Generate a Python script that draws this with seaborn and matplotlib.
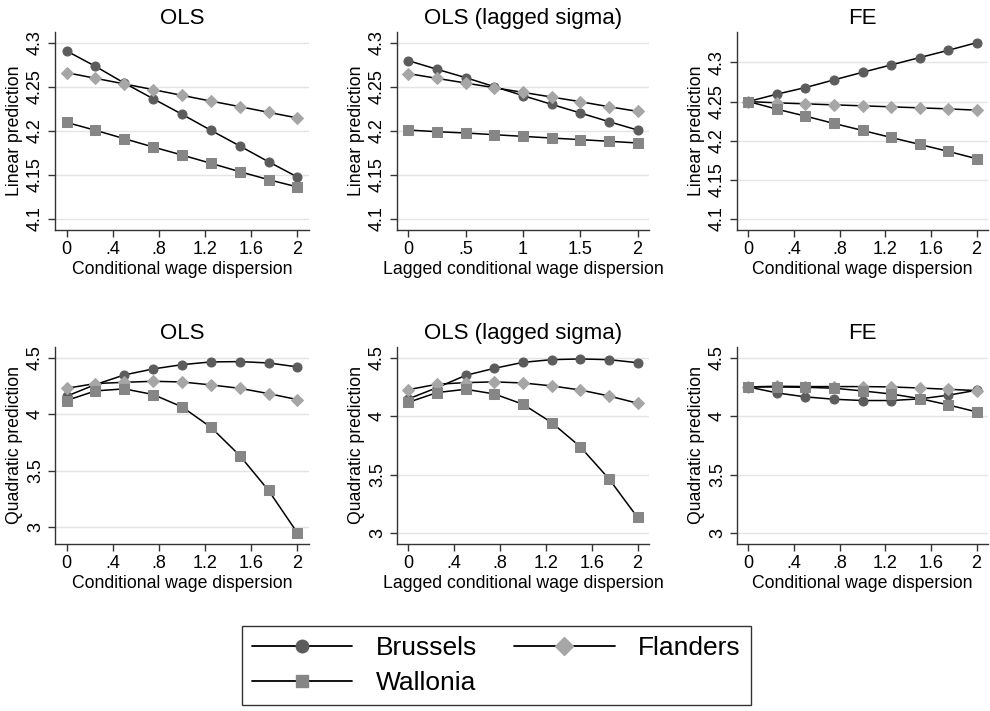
import matplotlib
matplotlib.use("Agg")
import matplotlib.pyplot as plt
import seaborn as sns
import numpy as np
import pandas as pd
from matplotlib.lines import Line2D

sns.set_theme(style="white")
plt.rcParams['font.family'] = ['Liberation Sans', 'DejaVu Sans']
plt.rcParams['text.color'] = 'black'
plt.rcParams['axes.labelcolor'] = 'black'
plt.rcParams['xtick.color'] = 'black'
plt.rcParams['ytick.color'] = 'black'

x = [0, 0.25, 0.5, 0.75, 1.0, 1.25, 1.5, 1.75, 2.0]
regions = ["Brussels", "Flanders", "Wallonia"]

# Linear prediction panels
ols_lin = {
    "Brussels": [4.291, 4.2735, 4.2545, 4.2367, 4.219, 4.2008, 4.183, 4.165, 4.1477],
    "Flanders": [4.2663, 4.2599, 4.2535, 4.2470, 4.2405, 4.2340, 4.2277, 4.2212, 4.2148],
    "Wallonia": [4.2098, 4.2008, 4.1913, 4.1818, 4.1727, 4.1633, 4.1538, 4.1447, 4.1364],
}
olslag_lin = {
    "Brussels": [4.2799, 4.2701, 4.2606, 4.2504, 4.2402, 4.2303, 4.2205, 4.2106, 4.2011],
    "Flanders": [4.2652, 4.2598, 4.2545, 4.2492, 4.2439, 4.2386, 4.2333, 4.2276, 4.2223],
    "Wallonia": [4.2011, 4.1992, 4.1977, 4.1958, 4.1939, 4.1920, 4.1902, 4.1883, 4.1864],
}
fe_lin = {
    "Brussels": [4.25, 4.2594, 4.2679, 4.2777, 4.2874, 4.2968, 4.3062, 4.3155, 4.3253],
    "Flanders": [4.25, 4.2483, 4.2470, 4.2457, 4.2445, 4.2432, 4.2419, 4.2406, 4.2389],
    "Wallonia": [4.25, 4.2402, 4.2313, 4.2219, 4.2130, 4.2040, 4.1951, 4.1862, 4.1768],
}
# Quadratic prediction panels
ols_quad = {
    "Brussels": [4.159, 4.262, 4.347, 4.400, 4.438, 4.462, 4.465, 4.453, 4.418],
    "Flanders": [4.229, 4.271, 4.282, 4.291, 4.285, 4.259, 4.229, 4.182, 4.129],
    "Wallonia": [4.121, 4.206, 4.224, 4.174, 4.065, 3.885, 3.635, 3.326, 2.950],
}
olslag_quad = {
    "Brussels": [4.148, 4.244, 4.349, 4.409, 4.460, 4.483, 4.489, 4.483, 4.457],
    "Flanders": [4.227, 4.273, 4.287, 4.293, 4.284, 4.259, 4.224, 4.173, 4.111],
    "Wallonia": [4.119, 4.202, 4.230, 4.190, 4.102, 3.946, 3.739, 3.466, 3.136],
}
fe_quad = {
    "Brussels": [4.250, 4.199, 4.165, 4.145, 4.134, 4.134, 4.148, 4.179, 4.222],
    "Flanders": [4.250, 4.256, 4.253, 4.253, 4.253, 4.250, 4.241, 4.230, 4.219],
    "Wallonia": [4.250, 4.250, 4.247, 4.239, 4.216, 4.190, 4.151, 4.097, 4.037],
}

titles = ["OLS", "OLS (lagged sigma)", "FE", "OLS", "OLS (lagged sigma)", "FE"]
xlabels = ["Conditional wage dispersion", "Lagged conditional wage dispersion",
           "Conditional wage dispersion"] * 2
ylabels = ["Linear prediction"] * 3 + ["Quadratic prediction"] * 3
datasets = [ols_lin, olslag_lin, fe_lin, ols_quad, olslag_quad, fe_quad]

xticks_a = [0, 0.4, 0.8, 1.2, 1.6, 2.0]
xticklabels_a = ["0", ".4", ".8", "1.2", "1.6", "2"]
xticks_b = [0, 0.5, 1.0, 1.5, 2.0]
xticklabels_b = ["0", ".5", "1", "1.5", "2"]
yticks_lin = [4.1, 4.15, 4.2, 4.25, 4.3]
yticklabels_lin = ["4.1", "4.15", "4.2", "4.25", "4.3"]
yticks_quad = [3.0, 3.5, 4.0, 4.5]
yticklabels_quad = ["3", "3.5", "4", "4.5"]

colors = {"Brussels": "#5c5c5c", "Flanders": "#a6a6a6", "Wallonia": "#868686"}
markers = {"Brussels": "o", "Flanders": "D", "Wallonia": "s"}
msizes = {"Brussels": 6.5, "Flanders": 6.5, "Wallonia": 6.5}

W, H = 990, 711
fig = plt.figure(figsize=(W / 100, H / 100), dpi=100)

cols = [(55, 309), (397, 649), (737, 988)]
rows = [(32, 230), (347, 544)]
ylims = [(4.0875, 4.3125), (4.0875, 4.3125), (4.0855, 4.339),
         (2.853, 4.594), (2.909, 4.591), (2.909, 4.591)]

for i, data in enumerate(datasets):
    r, c = divmod(i, 3)
    l, rr = cols[c]
    t, b = rows[r]
    ax = fig.add_axes([l / W, 1 - b / H, (rr - l) / W, (b - t) / H])
    df = pd.DataFrame({"x": x * 3,
                       "y": sum([data[k] for k in regions], []),
                       "region": sum([[k] * len(x) for k in regions], [])})
    for k in regions:
        sub = df[df.region == k]
        sns.lineplot(data=sub, x="x", y="y", ax=ax, color="black", lw=1.1,
                     marker=markers[k], markersize=msizes[k],
                     markerfacecolor=colors[k], markeredgecolor=colors[k],
                     legend=False, zorder=3)
    ax.set_xlim(-0.1, 2.1)
    ax.set_ylim(*ylims[i])
    if i == 1:
        ax.set_xticks(xticks_b)
        ax.set_xticklabels(xticklabels_b)
    else:
        ax.set_xticks(xticks_a)
        ax.set_xticklabels(xticklabels_a)
    if r == 0:
        ax.set_yticks(yticks_lin)
        ax.set_yticklabels(yticklabels_lin, rotation=90, va="center")
    else:
        ax.set_yticks(yticks_quad)
        ax.set_yticklabels(yticklabels_quad, rotation=90, va="center")
    ax.yaxis.grid(True, color="#e4e4e4", lw=1.0)
    ax.xaxis.grid(False)
    ax.set_axisbelow(True)
    for s in ["top", "right"]:
        ax.spines[s].set_visible(False)
    for s in ["left", "bottom"]:
        ax.spines[s].set_color("#333333")
        ax.spines[s].set_linewidth(1.0)
    ax.tick_params(axis="both", direction="out", length=5, width=1.0,
                   color="#333333", labelcolor="black", labelsize=13, pad=3,
                   bottom=True, left=True)
    ax.set_title(titles[i], fontsize=16, pad=6, color="black")
    ax.set_xlabel(xlabels[i], fontsize=12.7, labelpad=2, color="black")
    ax.set_ylabel(ylabels[i], fontsize=12.7, labelpad=3, color="black")

order = ["Brussels", "Wallonia", "Flanders"]
handles = [Line2D([0], [0], color="black", lw=1.3, marker=markers[k],
                  markersize=9, markerfacecolor=colors[k],
                  markeredgecolor=colors[k]) for k in order]
leg = fig.legend(handles, order, loc="center",
                 bbox_to_anchor=((243 + 750) / 2 / W, 1 - (622 + 709) / 2 / H),
                 ncol=2, fontsize=19, frameon=True, fancybox=False,
                 handlelength=3.8, columnspacing=1.4, handletextpad=0.9,
                 labelspacing=0.4, borderpad=0.4, edgecolor="black")
leg.get_frame().set_linewidth(1.0)

fig.savefig("out.png", dpi=100, facecolor="white")
